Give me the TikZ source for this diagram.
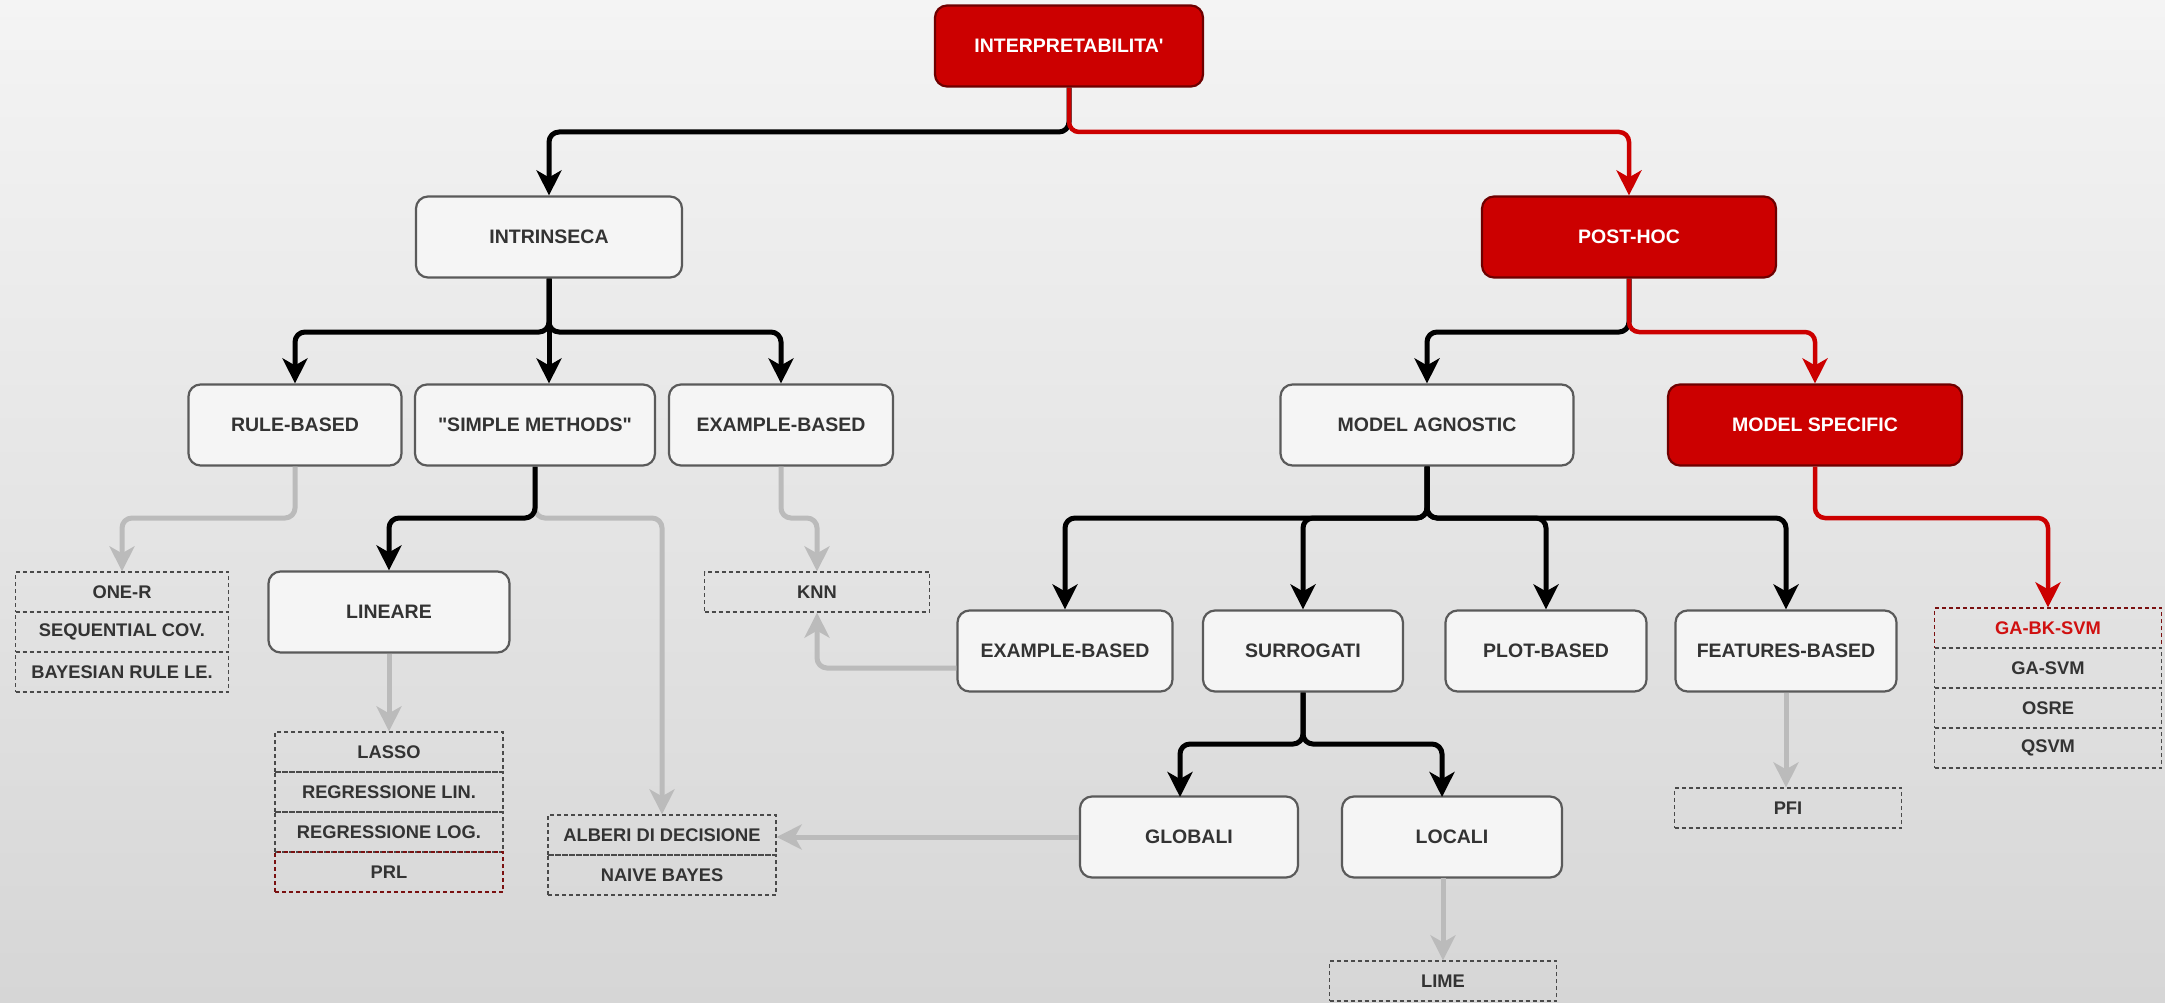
\documentclass[tikz,border=0pt]{standalone}
\usepackage{fontspec}
\setmainfont{Liberation Sans}
\usetikzlibrary{arrows.meta}
\definecolor{bgtop}{HTML}{F4F4F4}
\definecolor{bgbot}{HTML}{D6D6D6}
\definecolor{boxfill}{HTML}{F5F5F5}
\definecolor{boxline}{HTML}{5A5A5A}
\definecolor{ink}{HTML}{333333}
\definecolor{redfill}{HTML}{CC0000}
\definecolor{redline}{HTML}{6E0000}
\definecolor{redtext}{HTML}{D01010}
\definecolor{linkgray}{HTML}{BBBBBB}
\definecolor{dashline}{HTML}{4A4A4A}
\definecolor{dashred}{HTML}{7A1010}
\begin{document}
\begin{tikzpicture}[x=1pt,y=-1pt,
  every node/.style={font=\bfseries\fontsize{19.5}{23}\selectfont, inner sep=0pt, align=center},
  nbox/.style={rounded corners=12pt, draw=boxline, line width=2.2pt, fill=boxfill, text=ink, minimum height=81pt},
  redbox/.style={nbox, fill=redfill, draw=redline, text=white},
  listrow/.style={draw=dashline, line width=1.3pt, dash pattern=on 4pt off 3pt, text=ink,
    minimum height=40pt, font=\bfseries\fontsize{18.3}{22}\selectfont},
  redrow/.style={listrow, draw=dashred},
  arrowtip/.style={-{Stealth[length=25pt,width=25pt,inset=7pt]}},
  blk/.style={arrowtip, draw=black, line width=5pt, rounded corners=10pt},
  redlink/.style={arrowtip, draw=redfill, line width=4.5pt, rounded corners=10pt},
  glink/.style={arrowtip, draw=linkgray, line width=5pt, rounded corners=10pt},
]
% background
\shade[top color=bgtop, bottom color=bgbot] (0,0) rectangle (2165,1003);
\useasboundingbox (0,0) rectangle (2165,1003);

% branching levels
\coordinate (lvl1) at (0,132);
\coordinate (lvl2) at (0,332);
\coordinate (lvl3) at (0,518);
\coordinate (lvl4) at (0,744);

% main nodes
\node[redbox, minimum width=268pt] (interp) at (1069,46) {INTERPRETABILITA\textquotesingle};
\node[nbox, minimum width=266pt] (intr) at (549,237) {INTRINSECA};
\node[redbox, minimum width=294pt] (posthoc) at (1629,237) {POST-HOC};

\node[nbox, minimum width=213pt] (rule) at (295,425) {RULE-BASED};
\node[nbox, minimum width=240pt] (simple) at (535,425) {\textquotedbl SIMPLE METHODS\textquotedbl};
\node[nbox, minimum width=224pt] (exl) at (781,425) {EXAMPLE-BASED};
\node[nbox, minimum width=293pt] (ma) at (1427,425) {MODEL AGNOSTIC};
\node[redbox, minimum width=294pt] (ms) at (1815,425) {MODEL SPECIFIC};

\node[nbox, minimum width=241pt] (lin) at (389,612) {LINEARE};
\node[nbox, minimum width=215pt] (exr) at (1065,651) {EXAMPLE-BASED};
\node[nbox, minimum width=200pt] (surr) at (1303,651) {SURROGATI};
\node[nbox, minimum width=201pt] (plot) at (1546,651) {PLOT-BASED};
\node[nbox, minimum width=221pt] (feat) at (1786,651) {FEATURES-BASED};

\node[nbox, minimum width=218pt] (glob) at (1189,837) {GLOBALI};
\node[nbox, minimum width=220pt] (loc) at (1452,837) {LOCALI};

% entry points of the arrows into the lower boxes
\coordinate (globin) at (1180,797);
\coordinate (locin) at (1442,797);
\coordinate (locout) at (1443,878);

% method lists
\node[listrow, minimum width=213pt] (oner1) at (122,592) {ONE-R};
\node[listrow, minimum width=213pt] (oner2) at (122,632) {SEQUENTIAL COV.};
\node[listrow, minimum width=213pt] (oner3) at (122,672) {BAYESIAN RULE LE.};

\node[listrow, minimum width=225pt] (knn) at (817,592) {KNN};

\node[listrow, minimum width=228pt] (lasso1) at (389,752) {LASSO};
\node[listrow, minimum width=228pt] (lasso2) at (389,792) {REGRESSIONE LIN.};
\node[listrow, minimum width=228pt] (lasso3) at (389,832) {REGRESSIONE LOG.};
\node[redrow, minimum width=228pt] (lasso4) at (389,872) {PRL};

\node[listrow, minimum width=228pt] (alb1) at (662,835) {ALBERI DI DECISIONE};
\node[listrow, minimum width=228pt] (alb2) at (662,875) {NAIVE BAYES};

\node[redrow, minimum width=227pt, text=redtext] (ga1) at (2048,628) {GA-BK-SVM};
\node[listrow, minimum width=227pt] (ga2) at (2048,668) {GA-SVM};
\node[listrow, minimum width=227pt] (ga3) at (2048,708) {OSRE};
\node[listrow, minimum width=227pt] (ga4) at (2048,748) {QSVM};

\node[listrow, minimum width=227pt] (pfi) at (1788,808) {PFI};
\node[listrow, minimum width=227pt] (lime) at (1443,981) {LIME};

% grey links to concrete methods
\draw[glink] (rule.south) -- (rule.south |- lvl3) -| (oner1.north);
\draw[glink] (simple.south) -- (simple.south |- lvl3) -| (alb1.north);
\draw[glink] (exl.south) -- (exl.south |- lvl3) -| (knn.north);
\draw[glink] ([yshift=-17pt]exr.west) -| (knn.south);
\draw[glink] (glob.west) -- (glob.west -| alb1.east);
\draw[glink] (lin.south) -- (lin.south |- lasso1.north);
\draw[glink] (locout) -- (lime.north);
\draw[glink] (feat.south) -- (feat.south |- pfi.north);

% black hierarchy links
\draw[blk] (interp.south) -- (interp.south |- lvl1) -| (intr.north);
\draw[blk] (intr.south) -- (intr.south |- lvl2) -| (rule.north);
\draw[blk] (intr.south) -- (intr.south |- simple.north);
\draw[blk] (intr.south) -- (intr.south |- lvl2) -| (exl.north);
\draw[blk] (posthoc.south) -- (posthoc.south |- lvl2) -| (ma.north);
\draw[blk] (simple.south) -- (simple.south |- lvl3) -| (lin.north);
\draw[blk] (ma.south) -- (ma.south |- lvl3) -| (exr.north);
\draw[blk] (ma.south) -- (ma.south |- lvl3) -| (surr.north);
\draw[blk] (ma.south) -- (ma.south |- lvl3) -| (plot.north);
\draw[blk] (ma.south) -- (ma.south |- lvl3) -| (feat.north);
\draw[blk] (surr.south) -- (surr.south |- lvl4) -| (globin);
\draw[blk] (surr.south) -- (surr.south |- lvl4) -| (locin);

% red path
\draw[redlink] (interp.south) -- (interp.south |- lvl1) -| (posthoc.north);
\draw[redlink] (posthoc.south) -- (posthoc.south |- lvl2) -| (ms.north);
\draw[redlink] (ms.south) -- (ms.south |- lvl3) -| (ga1.north);
\end{tikzpicture}
\end{document}
